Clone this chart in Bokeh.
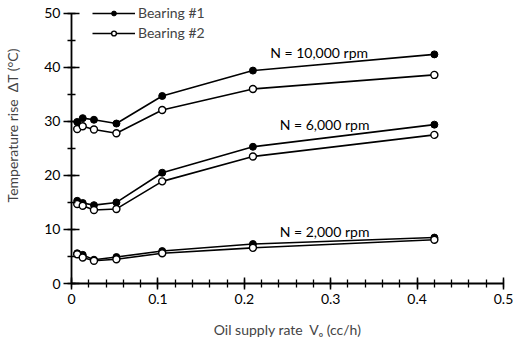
from bokeh.plotting import figure
from bokeh.models import Range1d, SingleIntervalTicker, Label, Legend, LegendItem
from bokeh.embed import file_html
from bokeh.resources import INLINE

# ---- data ----
oil_rate = [0.0066, 0.013, 0.026, 0.052, 0.105, 0.21, 0.42]

b1_10000 = [29.9, 30.6, 30.3, 29.6, 34.7, 39.4, 42.4]
b2_10000 = [28.6, 29.1, 28.5, 27.8, 32.1, 36.0, 38.6]
b1_6000 = [15.3, 14.9, 14.5, 15.0, 20.5, 25.3, 29.4]
b2_6000 = [14.7, 14.4, 13.6, 13.8, 18.9, 23.5, 27.5]
b1_2000 = [5.6, 5.3, 4.4, 4.9, 6.0, 7.3, 8.5]
b2_2000 = [5.4, 4.8, 4.2, 4.5, 5.6, 6.6, 8.1]

speed_labels = ["N = 10,000 rpm", "N = 6,000 rpm", "N = 2,000 rpm"]
label_x = [0.230, 0.241, 0.241]
label_y = [42.8, 29.4, 9.6]

series_names = ["Bearing #1", "Bearing #2"]

FONT = "Lato"

p = figure(width=513, height=343, output_backend="svg", toolbar_location=None,
           x_range=Range1d(0, 0.5), y_range=Range1d(0, 52),
           min_border_left=71, min_border_right=10, min_border_top=2, min_border_bottom=60)
p.outline_line_color = None
p.xgrid.grid_line_color = None
p.ygrid.grid_line_color = None
p.background_fill_color = "white"

# axes
p.xaxis.ticker = SingleIntervalTicker(interval=0.1, num_minor_ticks=5)
p.yaxis.ticker = SingleIntervalTicker(interval=10, num_minor_ticks=2)
p.yaxis.bounds = (0, 50)
for ax in (p.xaxis[0], p.yaxis[0]):
    ax.axis_line_color = "black"
    ax.axis_line_width = 1.8
    ax.major_tick_line_color = "black"
    ax.major_tick_line_width = 1.5
    ax.minor_tick_line_color = "black"
    ax.minor_tick_line_width = 1.3
    ax.minor_tick_in = 4
    ax.minor_tick_out = 4
    ax.major_label_text_font = FONT
    ax.major_label_text_font_size = "14px"
    ax.major_label_text_color = "black"
p.xaxis.major_tick_in = 6
p.xaxis.major_tick_out = 6
p.yaxis.major_tick_in = 8
p.yaxis.major_tick_out = 8
p.yaxis.major_label_standoff = 3
p.xaxis.major_label_standoff = 4
p.xaxis.major_label_overrides = {0: "0"}
p.yaxis.major_label_overrides = {0: "0"}

p.xaxis.axis_label = "Oil supply rate\u00a0\u00a0Vₒ (cc/h)"
p.xaxis.axis_label_text_font = FONT
p.xaxis.axis_label_text_font_size = "14px"
p.xaxis.axis_label_text_font_style = "normal"
p.xaxis.axis_label_standoff = 14

p.yaxis.axis_label = "\u00a0" * 10 + "Temperature rise\u00a0\u00a0ΔT (°C)"
p.yaxis.axis_label_text_font = FONT
p.yaxis.axis_label_text_font_size = "14px"
p.yaxis.axis_label_text_font_style = "normal"
p.yaxis.axis_label_standoff = 20

groups = [(b1_10000, b2_10000), (b1_6000, b2_6000), (b1_2000, b2_2000)]
r1 = []
r2 = []
for ya, yb in groups:
    la = p.line(oil_rate, ya, line_color="black", line_width=1.6)
    sa = p.scatter(oil_rate, ya, size=7, marker="circle", fill_color="black", line_color="black")
    lb = p.line(oil_rate, yb, line_color="black", line_width=1.6)
    sb = p.scatter(oil_rate, yb, size=7, marker="circle", fill_color="white", line_color="black", line_width=1.4)
    r1 += [la, sa]
    r2 += [lb, sb]

for t, x, y in zip(speed_labels, label_x, label_y):
    p.add_layout(Label(x=x, y=y, text=t, text_align="left", text_baseline="middle",
                       text_font=FONT, text_font_size="14px", text_color="black"))

legend = Legend(items=[LegendItem(label=series_names[0], renderers=r1[:2]),
                       LegendItem(label=series_names[1], renderers=r2[:2])],
                location=(21, 242), padding=0, spacing=3, margin=0,
                glyph_width=43, glyph_height=12, label_height=12,
                label_standoff=3, label_text_font=FONT, label_text_font_size="14px",
                border_line_color=None, background_fill_alpha=0)
p.add_layout(legend)

open("out.html", "w").write(file_html(p, INLINE))
